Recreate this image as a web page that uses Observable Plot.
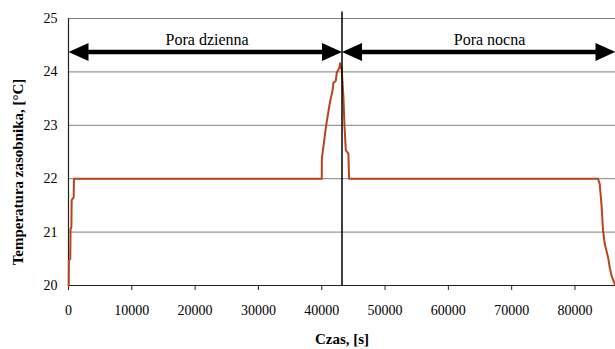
<!DOCTYPE html>
<html>
<head>
<meta charset="utf-8">
<script src="https://cdn.jsdelivr.net/npm/d3@7"></script>
<script src="https://cdn.jsdelivr.net/npm/@observablehq/plot@0.6"></script>
<style>
  html, body { margin: 0; padding: 0; background: #fff; }
  svg text { font-family: "Liberation Serif", serif; font-variant: normal !important; }
</style>
</head>
<body>
<div id="chart"></div>
<script>
// ---- data ----
const timeS = [0, 40, 60, 280, 320, 460, 500, 820, 860,
  40000, 40020, 40700, 41320, 41690, 41850, 42220, 42380, 42790, 42900,
  43160, 43420, 43580, 43800, 44210, 44320,
  83640, 83910, 84180, 84430, 84700, 85220, 85490, 85760, 86300];
const tempC = [20.0, 20.02, 20.47, 20.5, 21.05, 21.1, 21.6, 21.65, 22.0,
  22.0, 22.38, 23.0, 23.45, 23.64, 23.8, 23.83, 23.99, 24.08, 24.16,
  24.03, 23.54, 23.03, 22.53, 22.47, 22.0,
  22.0, 21.9, 21.53, 21.03, 20.78, 20.53, 20.34, 20.19, 20.02];
const xTicks = [0, 10000, 20000, 30000, 40000, 50000, 60000, 70000, 80000];
const yTicks = [20, 21, 22, 23, 24, 25];
const phases = ["Pora dzienna", "Pora nocna"];
const phaseStart = [0, 43200];
const phaseEnd = [43200, 86400];
const phaseLabelX = [21900, 66500];
const arrowLevel = 24.375;
const labelLevel = 24.6;
const dividerX = [43200];
const xLabel = "Czas, [s]";
const yLabel = "Temperatura zasobnika, [°C]";

const FONT = "Liberation Serif";
const headRight = {draw(ctx) { ctx.moveTo(0, 0); ctx.lineTo(-20, -9); ctx.lineTo(-20, 9); ctx.closePath(); }};
const headLeft = {draw(ctx) { ctx.moveTo(0, 0); ctx.lineTo(20, -9); ctx.lineTo(20, 9); ctx.closePath(); }};

const series = timeS.map((t, i) => ({t, T: tempC[i]}));
const arrows = phases.map((p, i) => ({p, x1: phaseStart[i], x2: phaseEnd[i], lx: phaseLabelX[i]}));

const chart = Plot.plot({
  width: 615,
  height: 349,
  marginLeft: 68,
  marginRight: 0,
  marginTop: 18,
  marginBottom: 64,
  x: {domain: [0, 86400]},
  y: {domain: [20, 25]},
  style: {fontFamily: FONT, fontSize: "14px", color: "#000", background: "#fff", overflow: "visible"},
  marks: [
    Plot.gridY(yTicks.slice(1), {stroke: "#808080", strokeOpacity: 1, strokeWidth: 1}),
    Plot.ruleY([yTicks[0]], {stroke: "#222", strokeWidth: 1.2}),
    Plot.ruleX([0], {y1: 20, y2: 25, stroke: "#222", strokeWidth: 1.2}),
    Plot.axisX({ticks: xTicks, tickSize: 5, tickPadding: 15, tickFormat: d3.format("d"), label: null, fontSize: 14, fontFamily: FONT, stroke: "#222"}),
    Plot.axisY({ticks: yTicks, tickSize: 0, tickPadding: 11, tickFormat: d3.format("d"), label: null, fontSize: 14, fontFamily: FONT}),
    Plot.line(series, {x: "t", y: "T", stroke: "#b5451b", strokeWidth: 2}),
    Plot.ruleX(dividerX, {y1: 20, y2: 25.12, stroke: "#000", strokeWidth: 1.5}),
    Plot.ruleY(arrows, {x1: "x1", x2: "x2", y: () => arrowLevel, stroke: "#000", strokeWidth: 4.5, insetLeft: 12, insetRight: 12}),
    Plot.dot(arrows, {x: "x1", y: () => arrowLevel, symbol: headLeft, fill: "#000", stroke: null}),
    Plot.dot(arrows, {x: "x2", y: () => arrowLevel, symbol: headRight, fill: "#000", stroke: null}),
    Plot.text(arrows, {x: "lx", y: () => labelLevel, text: "p", fontSize: 16, fontFamily: FONT, fill: "#000"}),
    Plot.text([yLabel], {frameAnchor: "left", textAnchor: "middle", rotate: -90, dx: -50, dy: 20, fontWeight: "bold", fontSize: 15, fontFamily: FONT, fill: "#000", letterSpacing: 1.4}),
    Plot.text([xLabel], {frameAnchor: "bottom", textAnchor: "middle", dy: 58, fontWeight: "bold", fontSize: 15, fontFamily: FONT, fill: "#000"})
  ]
});
document.getElementById("chart").appendChild(chart);
</script>
</body>
</html>
